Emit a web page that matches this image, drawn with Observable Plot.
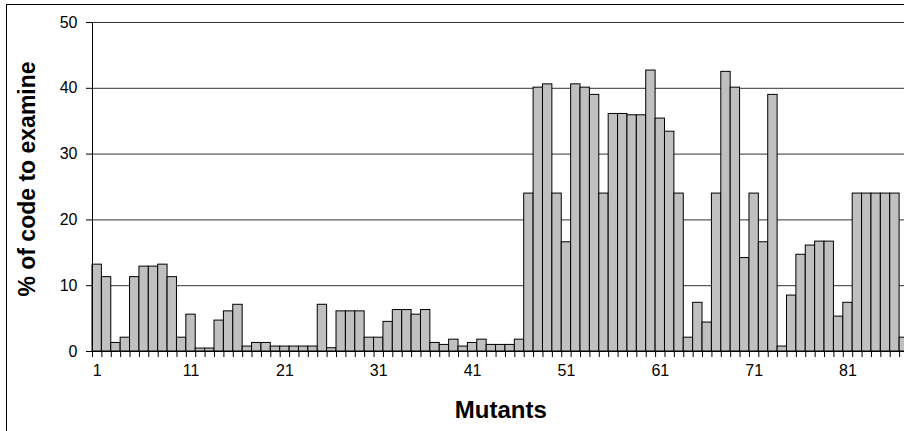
<!DOCTYPE html>
<html>
<head>
<meta charset="utf-8">
<script src="https://cdn.jsdelivr.net/npm/d3@7"></script>
<script src="https://cdn.jsdelivr.net/npm/@observablehq/plot@0.6"></script>
<style>
html, body { margin: 0; padding: 0; background: #fff; overflow: hidden; }
#wrap { position: relative; width: 904px; height: 431px; overflow: hidden; }
#border { position: absolute; left: 6px; top: 4px; width: 1000px; height: 1000px;
  border-top: 1px solid #000; border-left: 1px solid #000; pointer-events: none; }
</style>
</head>
<body>
<div id="wrap"><div id="chart"></div><div id="border"></div></div>
<script>
// % of code to examine, per mutant (mutant number = position + 1)
const pctValues = [
  13.2, 11.3, 1.3, 2.1, 11.3, 12.9, 12.9, 13.2, 11.3, 2.1,
  5.6, 0.45, 0.45, 4.7, 6.1, 7.1, 0.75, 1.3, 1.3, 0.75,
  0.75, 0.75, 0.75, 0.75, 7.1, 0.5, 6.1, 6.1, 6.1, 2.1,
  2.1, 4.5, 6.3, 6.3, 5.6, 6.3, 1.3, 1.0, 1.8, 0.75,
  1.3, 1.8, 1.0, 1.0, 1.0, 1.8, 24.0, 40.1, 40.6, 24.0,
  16.6, 40.6, 40.1, 39.0, 24.0, 36.1, 36.1, 35.9, 35.9, 42.7,
  35.4, 33.4, 24.0, 2.1, 7.4, 4.4, 24.0, 42.5, 40.1, 14.2,
  24.0, 16.6, 39.0, 0.75, 8.5, 14.7, 16.1, 16.7, 16.7, 5.3,
  7.4, 24.0, 24.0, 24.0, 24.0, 24.0, 2.1
];
const mutants = pctValues.map((_, i) => i + 1);
const xTickLabels = [1, 11, 21, 31, 41, 51, 61, 71, 81];
const yTicks = [0, 10, 20, 30, 40, 50];
const xTitle = "Mutants";
const yTitle = "% of code to examine";

const data = mutants.map((m, i) => ({mutant: m, pct: pctValues[i]}));
const boundaries = [0.5, ...mutants.map(m => m + 0.5)];

const chart = Plot.plot({
  width: 904,
  height: 431,
  marginTop: 22,
  marginBottom: 80,
  marginLeft: 92,
  marginRight: -4.5,
  style: {fontFamily: "'Liberation Sans', Arial, sans-serif", fontSize: "16px", color: "#000", background: "#fff", overflow: "hidden"},
  x: {type: "linear", domain: [0.5, mutants.length + 0.5]},
  y: {domain: [0, 50]},
  marks: [
    Plot.gridY(yTicks.slice(1), {stroke: "#333", strokeOpacity: 1}),
    Plot.rectY(data, {x1: d => d.mutant - 0.5, x2: d => d.mutant + 0.5, y: "pct", fill: "#c0c0c0", stroke: "#000", strokeWidth: 1}),
    Plot.axisY(yTicks, {tickSize: 6, tickPadding: 9, label: null, fontSize: 16}),
    Plot.axisX(boundaries, {tickSize: 6, tickFormat: () => "", label: null}),
    Plot.axisX(xTickLabels, {tickSize: 0, tickPadding: 13, label: null, fontSize: 16}),
    Plot.ruleX([0.5], {stroke: "#000"}),
    Plot.ruleY([0], {stroke: "#000"}),
    Plot.text([xTitle], {frameAnchor: "bottom", dy: 66, fontSize: 24, fontWeight: "bold"}),
    Plot.text([yTitle], {frameAnchor: "left", textAnchor: "middle", rotate: -90, dx: -65, dy: -8, fontSize: 23, fontWeight: "bold"})
  ]
});
document.getElementById("chart").appendChild(chart);
</script>
</body>
</html>
